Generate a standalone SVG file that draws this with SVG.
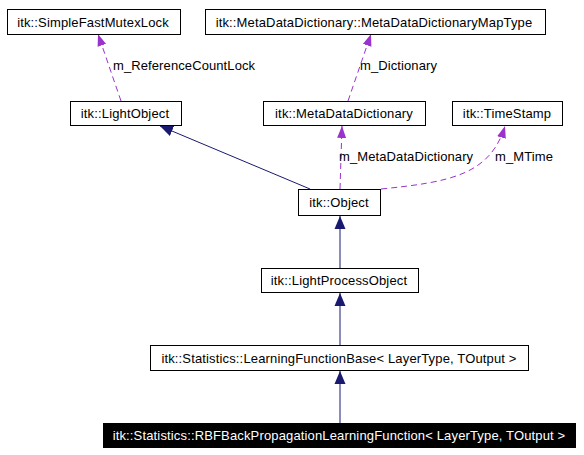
<svg xmlns="http://www.w3.org/2000/svg" width="584" height="455" viewBox="0 0 584 455">
<style>
.box{fill:#ffffff;stroke:#000000;stroke-width:1}
.cur{fill:#000000;stroke:#000000;stroke-width:1}
.t{font-family:"Liberation Sans",Arial,Helvetica,sans-serif;font-size:13px;letter-spacing:0.15px;text-anchor:middle;fill:#000000}
.tw{fill:#ffffff}
.lbl{font-family:"Liberation Sans",Arial,Helvetica,sans-serif;font-size:13px;letter-spacing:0.1px;fill:#000000}
.inh{fill:none;stroke:#191970;stroke-width:1;marker-end:url(#ah)}
.use{fill:none;stroke:#9a32cd;stroke-width:1;stroke-dasharray:6,4;marker-end:url(#au)}
</style>
<defs>
<marker id="ah" markerUnits="userSpaceOnUse" markerWidth="14" markerHeight="12" refX="13" refY="6" orient="auto" viewBox="0 0 14 12">
<path d="M0,0.5 L13,6 L0,11.5 Z" fill="#191970"/>
</marker>
<marker id="au" markerUnits="userSpaceOnUse" markerWidth="13" markerHeight="10" refX="12" refY="5" orient="auto" viewBox="0 0 13 10">
<path d="M0,0.5 L12,5 L0,9.5 Z" fill="#9a32cd"/>
</marker>
</defs>
<g id="connectors">
<path class="inh" d="M310,189 L160,126"/>
<path class="inh" d="M340,268 L340,216"/>
<path class="inh" d="M340,345 L340,293"/>
<path class="inh" d="M340,423 L340,371"/>
<path class="use" d="M340,189 L342,126"/>
<path class="use" d="M381,189 C450,182 490,175 505,126"/>
<path class="use" d="M121,101 L98,34"/>
<path class="use" d="M348,101 L371,34"/>
<text class="lbl" x="113" y="70">m_ReferenceCountLock</text>
<text class="lbl" x="360" y="70">m_Dictionary</text>
<text class="lbl" x="339" y="161">m_MetaDataDictionary</text>
<text class="lbl" x="495" y="161">m_MTime</text>
</g>
<g id="n_SimpleFastMutexLock"><rect class="box" x="7.5" y="9.5" width="173" height="25"/><text class="t" x="93" y="26.5">itk::SimpleFastMutexLock</text></g>
<g id="n_MapType"><rect class="box" x="205.5" y="9.5" width="340" height="25"/><text class="t" x="374" y="26.5">itk::MetaDataDictionary::MetaDataDictionaryMapType</text></g>
<g id="n_LightObject"><rect class="box" x="70.5" y="101.5" width="111" height="24"/><text class="t" x="125" y="118">itk::LightObject</text></g>
<g id="n_MetaDataDictionary"><rect class="box" x="263.5" y="101.5" width="162" height="24"/><text class="t" x="344" y="118">itk::MetaDataDictionary</text></g>
<g id="n_TimeStamp"><rect class="box" x="452.5" y="101.5" width="110" height="24"/><text class="t" x="507" y="118">itk::TimeStamp</text></g>
<g id="n_Object"><rect class="box" x="298.5" y="189.5" width="82" height="26"/><text class="t" x="339" y="207">itk::Object</text></g>
<g id="n_LightProcessObject"><rect class="box" x="261.5" y="268.5" width="157" height="24"/><text class="t" x="339" y="285">itk::LightProcessObject</text></g>
<g id="n_LearningFunctionBase"><rect class="box" x="150.5" y="345.5" width="378" height="25"/><text class="t" x="339" y="362.5">itk::Statistics::LearningFunctionBase&lt; LayerType, TOutput &gt;</text></g>
<g id="n_RBFBackPropagationLearningFunction"><rect class="cur" x="103.5" y="423.5" width="472" height="24"/><text class="t tw" x="339" y="440">itk::Statistics::RBFBackPropagationLearningFunction&lt; LayerType, TOutput &gt;</text></g>
</svg>
